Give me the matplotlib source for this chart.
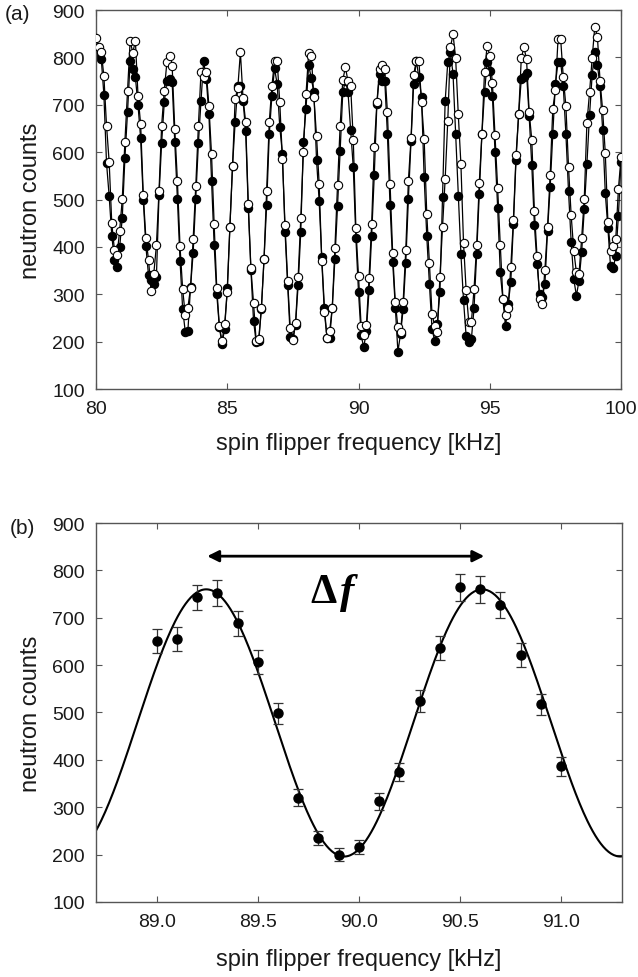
import numpy as np
import matplotlib.pyplot as plt

plt.rcParams['font.family'] = ['Liberation Sans', 'DejaVu Sans']

# (a) coarse scan of the spin flipper frequency, two runs (filled / open)
freq_a = np.linspace(80.0, 100.0, 201)

counts_filled = [
    804, 802, 797, 721, 577, 508, 424, 373, 357, 399,
    462, 587, 684, 793, 776, 758, 699, 629, 500, 401,
    340, 330, 322, 336, 509, 620, 705, 751, 755, 748,
    621, 502, 371, 269, 221, 223, 315, 387, 502, 619,
    709, 793, 754, 680, 540, 404, 300, 230, 195, 227,
    313, 441, 571, 663, 739, 739, 709, 645, 483, 352,
    244, 199, 202, 269, 374, 488, 638, 719, 777, 744,
    653, 597, 432, 320, 209, 205, 235, 320, 432, 622,
    692, 784, 756, 726, 584, 497, 378, 272, 207, 207,
    272, 374, 486, 603, 726, 751, 726, 647, 568, 418,
    304, 213,
    188, 223, 308, 424, 552, 702, 765, 751, 751, 638,
    488, 369, 272, 179, 216, 269, 367, 502, 624, 744,
    793, 758, 716, 547, 422, 322, 227, 202, 237, 304,
    505, 707, 790, 812, 765, 638, 508, 385, 287, 211,
    200, 206, 270, 385, 512, 638, 726, 791, 772, 718,
    601, 483, 346, 289, 232, 279, 325, 448, 584, 680,
    754, 758, 768, 676, 573, 446, 364, 301, 294, 322,
    434, 526, 638, 744, 790, 790, 739, 638, 517, 411,
    332, 297, 329, 389, 480, 575, 678, 763, 811, 784,
    739, 647, 514, 439, 359, 355, 381, 466, 580,
]

counts_open = [
    842, 822, 812, 760, 656, 580, 450, 394, 382, 434,
    501, 622, 730, 835, 810, 835, 719, 659, 510, 418,
    373, 306, 343, 403, 519, 656, 730, 790, 802, 782,
    649, 540, 401, 311, 256, 272, 313, 416, 529, 656,
    770, 758, 770, 698, 596, 448, 313, 232, 201, 237,
    305, 443, 570, 712, 735, 811, 714, 664, 491, 355,
    282, 202, 206, 272, 374, 517, 664, 739, 793, 793,
    705, 586, 446, 329, 228, 204, 239, 337, 460, 601,
    723, 809, 804, 716, 634, 533, 370, 262, 208, 222,
    272, 397, 530, 656, 752, 779, 750, 740, 626, 439,
    338, 232,
    214, 235, 334, 448, 610, 705, 775, 784, 775, 685,
    533, 387, 284, 230, 220, 284, 394, 540, 629, 763,
    793, 793, 705, 628, 469, 366, 258, 234, 221, 336,
    442, 543, 666, 821, 849, 798, 680, 575, 408, 308,
    241, 241, 311, 403, 535, 638, 770, 825, 804, 746,
    636, 524, 404, 291, 256, 272, 357, 457, 593, 680,
    798, 821, 797, 685, 626, 476, 380, 291, 280, 352,
    441, 552, 691, 732, 839, 839, 758, 697, 568, 467,
    392, 346, 343, 418, 502, 661, 726, 798, 865, 844,
    751, 688, 598, 453, 392, 401, 417, 522, 589,
]

# (b) fine scan with statistical errors and cosine fit
freq_b = [89.0, 89.1, 89.2, 89.3, 89.4, 89.5, 89.6, 89.7, 89.8, 89.9, 90.0,
          90.1, 90.2, 90.3, 90.4, 90.5, 90.6, 90.7, 90.8, 90.9, 91.0]
counts_b = [651, 655, 743, 752, 688, 607, 498, 320, 235, 200, 216,
            313, 374, 524, 636, 764, 760, 727, 622, 517, 387]
err_b = [25, 26, 27, 27, 26, 25, 22, 18, 15, 14, 15,
         18, 19, 23, 25, 28, 28, 27, 25, 23, 20]

fit_offset = 478
fit_amp = 282
fit_period = 1.365
fit_peak = 89.245

peak_1, peak_2 = 89.25, 90.62

spine_col = '#555555'


def style_axes(ax, xpad):
    for s in ax.spines.values():
        s.set_color(spine_col)
        s.set_linewidth(1.0)
    ax.tick_params(direction='in', top=True, right=True, length=4,
                   width=0.8, color=spine_col, labelsize=14, pad=8,
                   labelcolor='#1a1a1a')
    ax.set_xlabel('spin flipper frequency [kHz]', fontsize=17, labelpad=xpad,
                  color='#1a1a1a')
    ax.set_ylabel('neutron counts', fontsize=17, labelpad=7, color='#1a1a1a')


fig = plt.figure(figsize=(6.38, 9.78), dpi=100)
ax1 = fig.add_axes([0.1505, 0.6012, 0.8229, 0.3875])
ax2 = fig.add_axes([0.1505, 0.0767, 0.8240, 0.3875])

# panel (a)
ax1.plot(freq_a, counts_filled, '-o', color='black', lw=0.9, ms=6,
         mfc='black', mec='black', mew=0.8, zorder=2)
ax1.plot(freq_a, counts_open, '-o', color='black', lw=0.9, ms=6,
         mfc='white', mec='black', mew=0.8, zorder=3)
ax1.set_xlim(80, 100)
ax1.set_ylim(100, 900)
ax1.set_xticks([80, 85, 90, 95, 100])
ax1.set_yticks(range(100, 901, 100))
style_axes(ax1, 11)

# panel (b)
f_fit = np.linspace(88.7, 91.3, 400)
ax2.plot(f_fit, fit_offset + fit_amp * np.cos(2 * np.pi * (f_fit - fit_peak) / fit_period),
         color='black', lw=1.5, zorder=2)
ax2.errorbar(freq_b, counts_b, yerr=err_b, fmt='o', color='black', ms=6.5,
             ecolor='#333333', elinewidth=0.9, capsize=3.5, capthick=0.9, zorder=3)
ax2.set_xlim(88.7, 91.3)
ax2.set_ylim(100, 900)
ax2.set_xticks([89.0, 89.5, 90.0, 90.5, 91.0])
ax2.set_xticklabels(['89.0', '89.5', '90.0', '90.5', '91.0'])
ax2.set_yticks(range(100, 901, 100))
style_axes(ax2, 13)

ax2.annotate('', xy=(peak_2, 830), xytext=(peak_1, 830),
             arrowprops=dict(arrowstyle='<|-|>', color='black', lw=2,
                             mutation_scale=17, shrinkA=0, shrinkB=0))
ax2.text(89.76, 733, '\u0394', fontsize=30, fontweight='bold',
         family=['Liberation Serif', 'DejaVu Serif'], ha='left', va='baseline')
ax2.text(89.905, 733, 'f', fontsize=31, fontweight='bold', fontstyle='italic',
         family=['Liberation Serif', 'DejaVu Serif'], ha='left', va='baseline')

fig.text(0.008, 0.995, '(a)', fontsize=15, va='top', ha='left', color='#1a1a1a')
fig.text(0.016, 0.469, '(b)', fontsize=15, va='top', ha='left', color='#1a1a1a')

fig.savefig('out.png', dpi=100)
